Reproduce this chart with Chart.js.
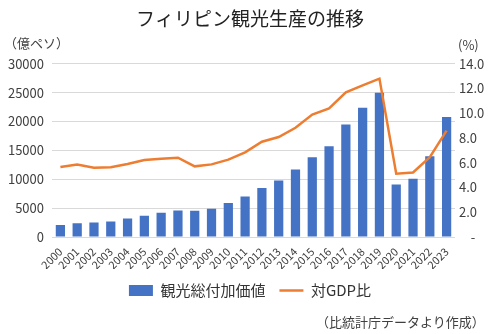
<!DOCTYPE html>
<html>
<head>
<meta charset="utf-8">
<script src="https://cdn.jsdelivr.net/npm/chart.js@4.4.0/dist/chart.umd.min.js"></script>
<style>
  html, body { margin: 0; padding: 0; background: #fff; }
  #wrap { position: relative; width: 500px; height: 334px; font-family: "Noto Sans CJK JP", sans-serif; }
  canvas { position: absolute; left: 0; top: 0; }
  .lbl { position: absolute; font-size: 13px; color: #404040; white-space: nowrap; }
</style>
</head>
<body>
<div id="wrap">
  <canvas id="c" width="500" height="334"></canvas>
  <div class="lbl" style="left:4px; top:33px;">（億ペソ）</div>
  <div class="lbl" style="left:458px; top:35px;">(%)</div>
  <div class="lbl" style="left:316px; top:312px;">（比統計庁データより作成）</div>
</div>
<script>
const years = ['2000','2001','2002','2003','2004','2005','2006','2007','2008','2009','2010','2011','2012','2013','2014','2015','2016','2017','2018','2019','2020','2021','2022','2023'];
const tourismValue = [2100, 2400, 2500, 2700, 3200, 3700, 4200, 4600, 4550, 4900, 5900, 7000, 8500, 9800, 11700, 13800, 15700, 19500, 22400, 25000, 9100, 10100, 14000, 20800];
const gdpShare = [5.65, 5.85, 5.6, 5.63, 5.9, 6.22, 6.33, 6.41, 5.71, 5.87, 6.25, 6.84, 7.7, 8.08, 8.83, 9.9, 10.4, 11.7, 12.25, 12.8, 5.11, 5.22, 6.46, 8.6];
const seriesNames = ['観光総付加価値', '対GDP比'];
const chartTitle = 'フィリピン観光生産の推移';

const FONT = '"Noto Sans CJK JP", sans-serif';
new Chart(document.getElementById('c'), {
  data: {
    labels: years,
    datasets: [
      {
        type: 'line', label: seriesNames[1], data: gdpShare, yAxisID: 'y1',
        borderColor: '#ED7D31', backgroundColor: '#ED7D31', borderWidth: 2.5,
        pointRadius: 0, tension: 0, order: 0, pointStyle: 'line'
      },
      {
        type: 'bar', label: seriesNames[0], data: tourismValue, yAxisID: 'y',
        backgroundColor: '#4472C4', borderWidth: 0,
        categoryPercentage: 1.0, barPercentage: 0.55, order: 1, pointStyle: 'rect'
      }
    ]
  },
  options: {
    responsive: false, animation: false,
    layout: { padding: { left: 0, right: 0, top: 0, bottom: 26 } },
    plugins: {
      title: { display: true, text: chartTitle, color: '#222', font: { family: FONT, size: 19, weight: 'normal' }, padding: { top: 7, bottom: 34 } },
      legend: {
        position: 'bottom',
        reverse: true,
        labels: {
          usePointStyle: true, pointStyleWidth: 24, boxHeight: 11,
          color: '#333', font: { family: FONT, size: 15 }, padding: 14
        }
      },
      tooltip: { enabled: false }
    },
    scales: {
      x: {
        grid: { display: false }, border: { display: false },
        ticks: { minRotation: 45, maxRotation: 45, color: '#404040', font: { family: FONT, size: 11 }, padding: 0, autoSkip: false },
        afterFit: s => { s.height = 32; }
      },
      y: {
        position: 'left', min: 0, max: 30000,
        grid: { color: '#d9d9d9', lineWidth: 1, drawTicks: false }, border: { display: false },
        ticks: { stepSize: 5000, color: '#404040', font: { family: FONT, size: 13 }, padding: 8,
          callback: v => String(v) },
        afterFit: s => { s.width = 52; }
      },
      y1: {
        position: 'right', min: 0, max: 14,
        grid: { display: false, drawTicks: false }, border: { display: false },
        ticks: { stepSize: 2, color: '#404040', font: { family: FONT, size: 13 }, padding: 4,
          callback: v => v === 0 ? '    -' : v.toFixed(1) },
        afterFit: s => { s.width = 45; }
      }
    }
  }
});
</script>
</body>
</html>
